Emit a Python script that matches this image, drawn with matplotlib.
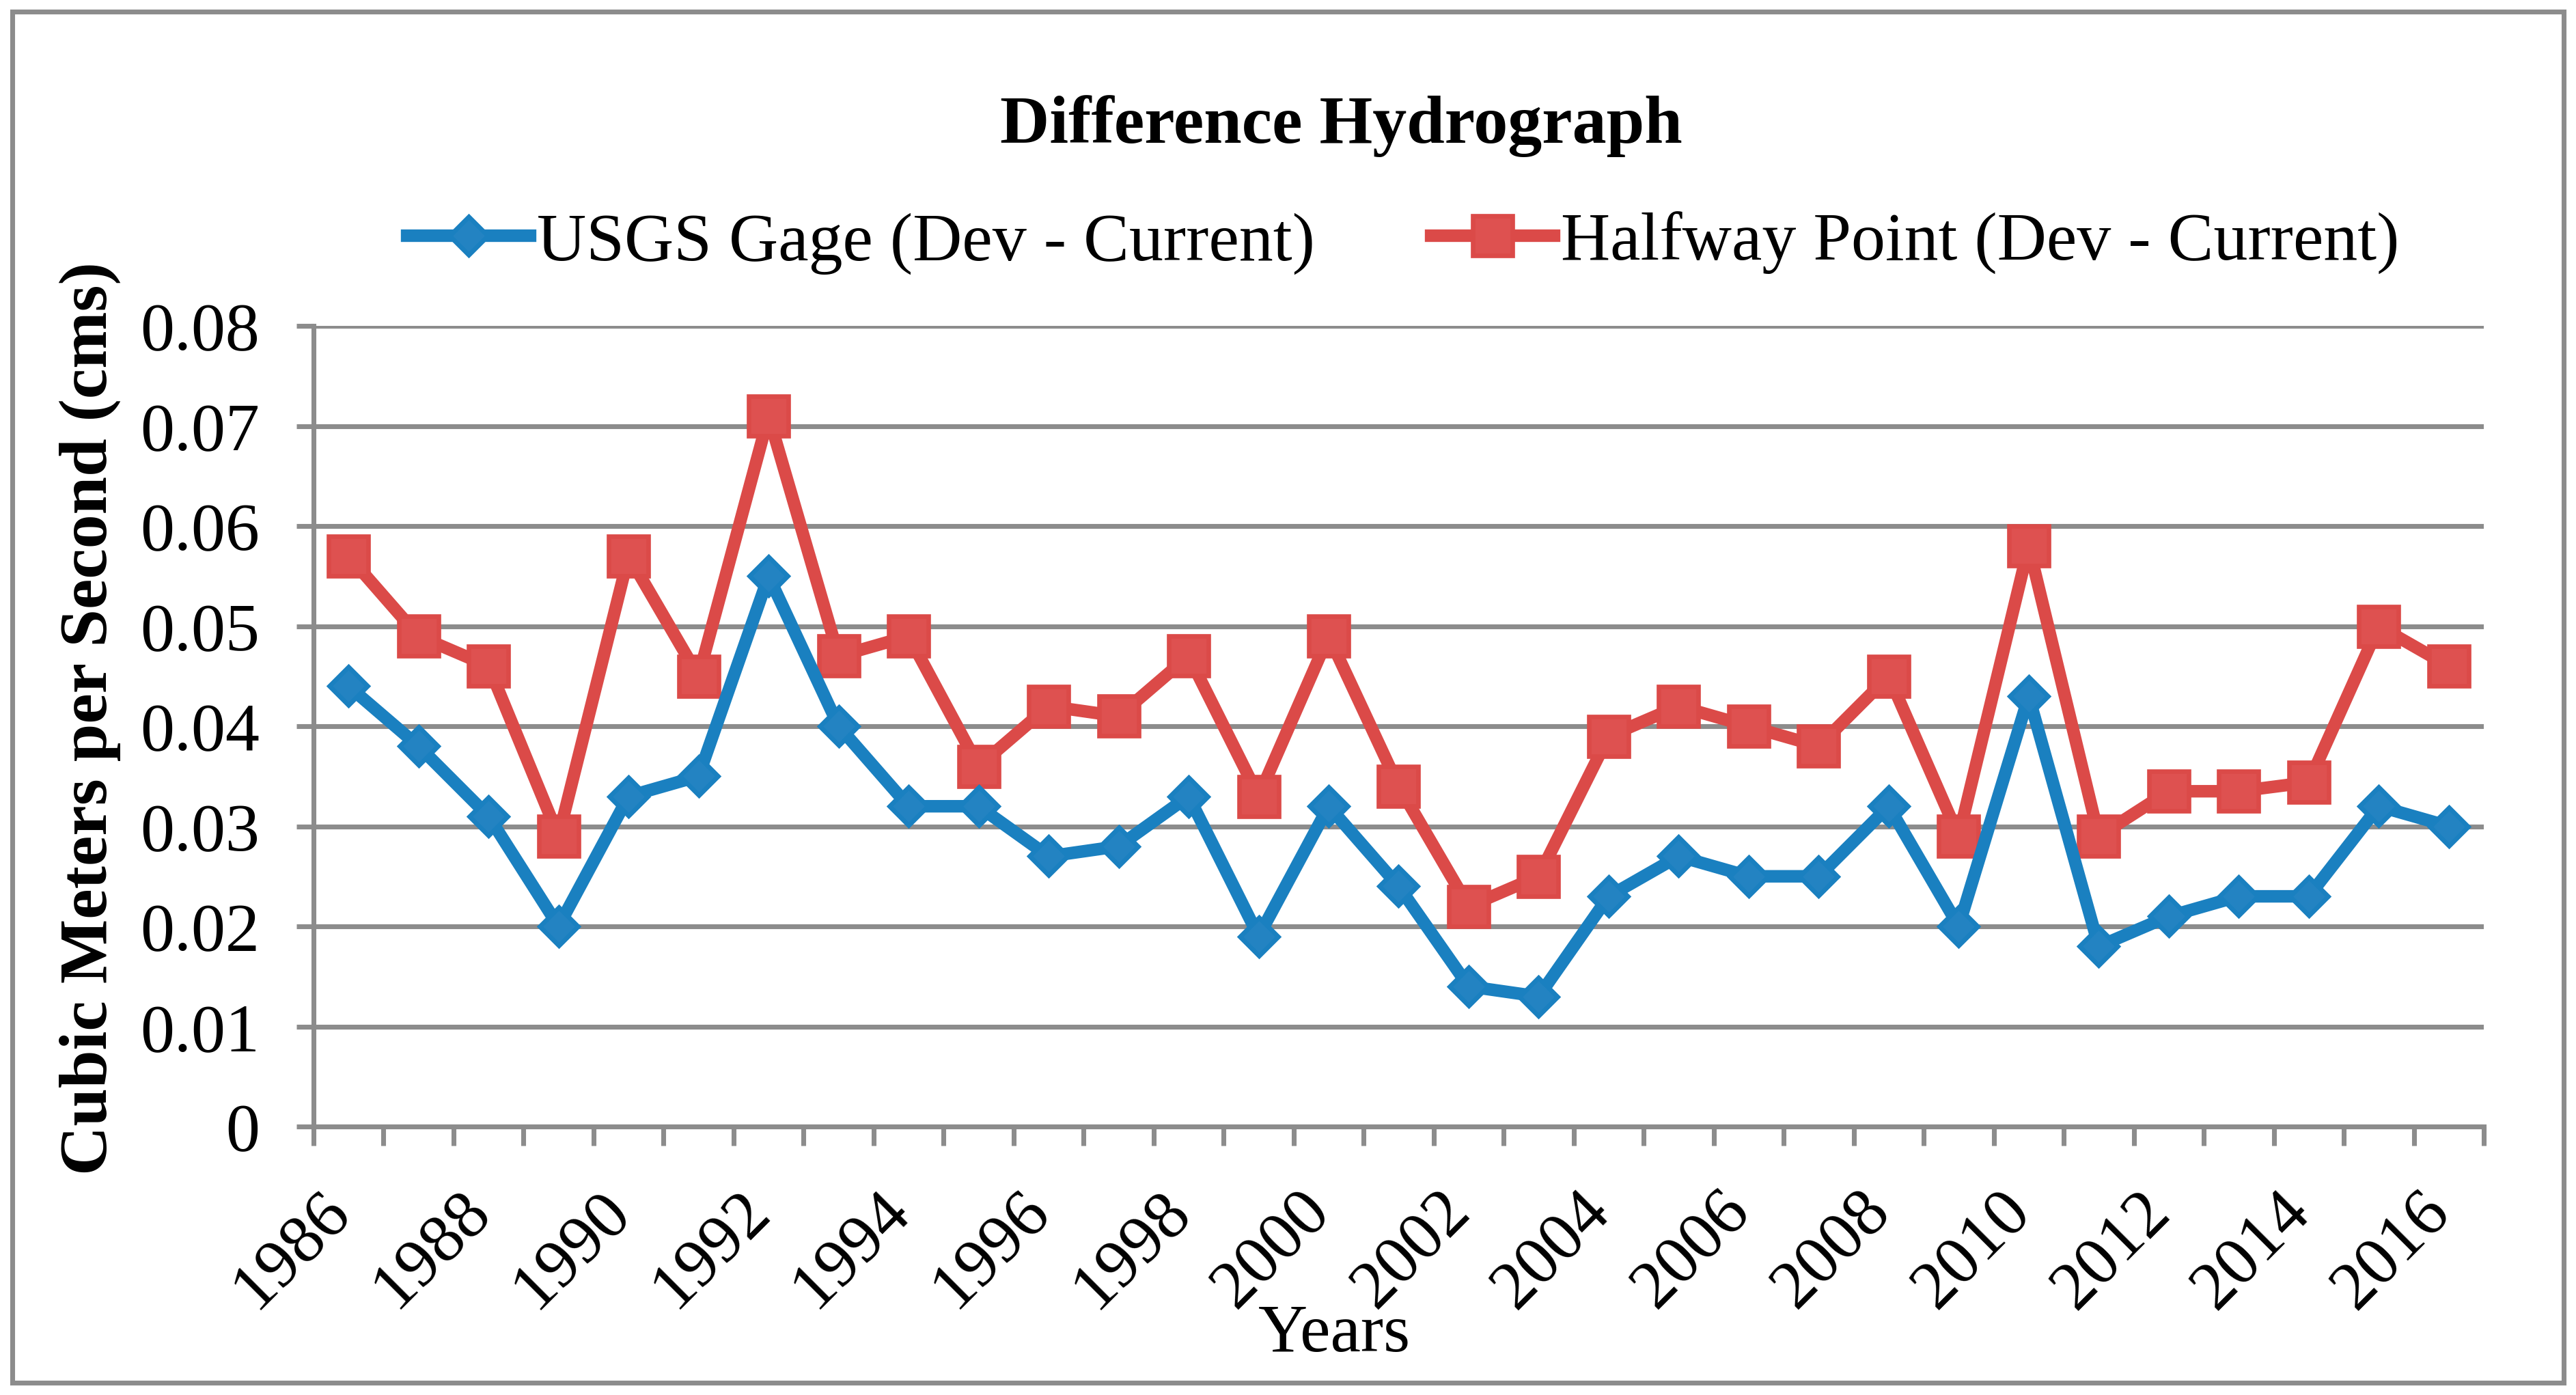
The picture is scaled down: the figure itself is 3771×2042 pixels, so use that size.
import matplotlib.pyplot as plt
from matplotlib.patches import Rectangle
from matplotlib.lines import Line2D
from matplotlib.transforms import ScaledTranslation
import numpy as np

years = list(range(1986, 2017))
usgs_gage = [0.044, 0.038, 0.031, 0.020, 0.033, 0.035, 0.055, 0.040, 0.032, 0.032,
             0.027, 0.028, 0.033, 0.019, 0.032, 0.024, 0.014, 0.013, 0.023, 0.027,
             0.025, 0.025, 0.032, 0.020, 0.043, 0.018, 0.021, 0.023, 0.023, 0.032,
             0.030]
halfway_point = [0.057, 0.049, 0.046, 0.029, 0.057, 0.045, 0.071, 0.047, 0.049, 0.036,
                 0.042, 0.041, 0.047, 0.033, 0.049, 0.034, 0.022, 0.025, 0.039, 0.042,
                 0.040, 0.038, 0.045, 0.029, 0.058, 0.029, 0.0335, 0.0335, 0.0344, 0.050,
                 0.046]
y_ticks = [0, 0.01, 0.02, 0.03, 0.04, 0.05, 0.06, 0.07, 0.08]
y_tick_labels = ["0", "0.01", "0.02", "0.03", "0.04", "0.05", "0.06", "0.07", "0.08"]

blue_line, blue_face = '#1A80C0', '#2383C2'
red_line, red_face = '#DB4A48', '#DE5150'
grey = '#8C8C8C'

plt.rcParams['font.family'] = ['Liberation Serif', 'DejaVu Serif']

W, H, DPI = 3771, 2043, 300
fig = plt.figure(figsize=(W / DPI, H / DPI), dpi=DPI)
ax = fig.add_axes([459 / W, 1 - 1650 / H, (3636 - 459) / W, (1650 - 478) / H])

red_style = dict(color=red_line, lw=4.4, marker='s', ms=14.0, mfc=red_face,
                 mec=red_line, mew=1.6)
blue_style = dict(color=blue_line, lw=4.4, marker='D', ms=9.4, mfc=blue_face,
                  mec=blue_line, mew=1.6)

x = np.arange(len(years))
ax.plot(x, halfway_point, zorder=3, **red_style)
ax.plot(x, usgs_gage, zorder=4, **blue_style)

ax.set_xlim(-0.5, len(years) - 0.5)
ax.set_ylim(0, 0.08)
ax.set_yticks(y_ticks)
ax.set_yticklabels(y_tick_labels)
ax.yaxis.grid(True, color=grey, lw=1.7)
ax.set_axisbelow(True)

ax.set_xticks(x[::2])
ax.set_xticklabels([str(y) for y in years[::2]], rotation=45, ha='right', va='top')
ax.set_xticks(np.arange(-0.5, len(years), 1.0), minor=True)
ax.tick_params(axis='x', which='major', length=0, pad=18.5, labelsize=24)
ax.tick_params(axis='x', which='minor', length=6.7, width=1.7, color=grey)
ax.tick_params(axis='y', length=6.0, width=1.7, color=grey, pad=13, labelsize=24)
for lab in ax.get_xticklabels():
    lab.set_transform(lab.get_transform() + ScaledTranslation(4.6 / 72, 0, fig.dpi_scale_trans))

for s in ['top', 'right']:
    ax.spines[s].set_visible(False)
for s in ['left', 'bottom']:
    ax.spines[s].set_color(grey)
    ax.spines[s].set_linewidth(1.7)

fig.text(1963 / W, 1 - 209 / H, 'Difference Hydrograph', ha='center', va='baseline',
         fontsize=24, fontweight='bold')
fig.text(132 / W, 1 - 1052 / H, 'Cubic Meters per Second (cms)', rotation=90,
         ha='center', va='center', fontsize=24, fontweight='bold')
fig.text(1953 / W, 1 - 1978 / H, 'Years', ha='center', va='baseline', fontsize=24)

handles = [Line2D([], [], **blue_style), Line2D([], [], **red_style)]
fig.legend(handles, ['USGS Gage (Dev - Current)', 'Halfway Point (Dev - Current)'],
           loc='center', bbox_to_anchor=(2054 / W, 1 - 356 / H), ncol=2, frameon=False,
           fontsize=24, handlelength=1.8, handletextpad=0.1, columnspacing=1.7,
           borderaxespad=0, borderpad=0)

fig.add_artist(Rectangle((18 / W, 18 / H), 1 - 36 / W, 1 - 36 / H,
                         transform=fig.transFigure, fill=False, edgecolor=grey, lw=1.7))

fig.savefig('out.png', dpi=DPI)
